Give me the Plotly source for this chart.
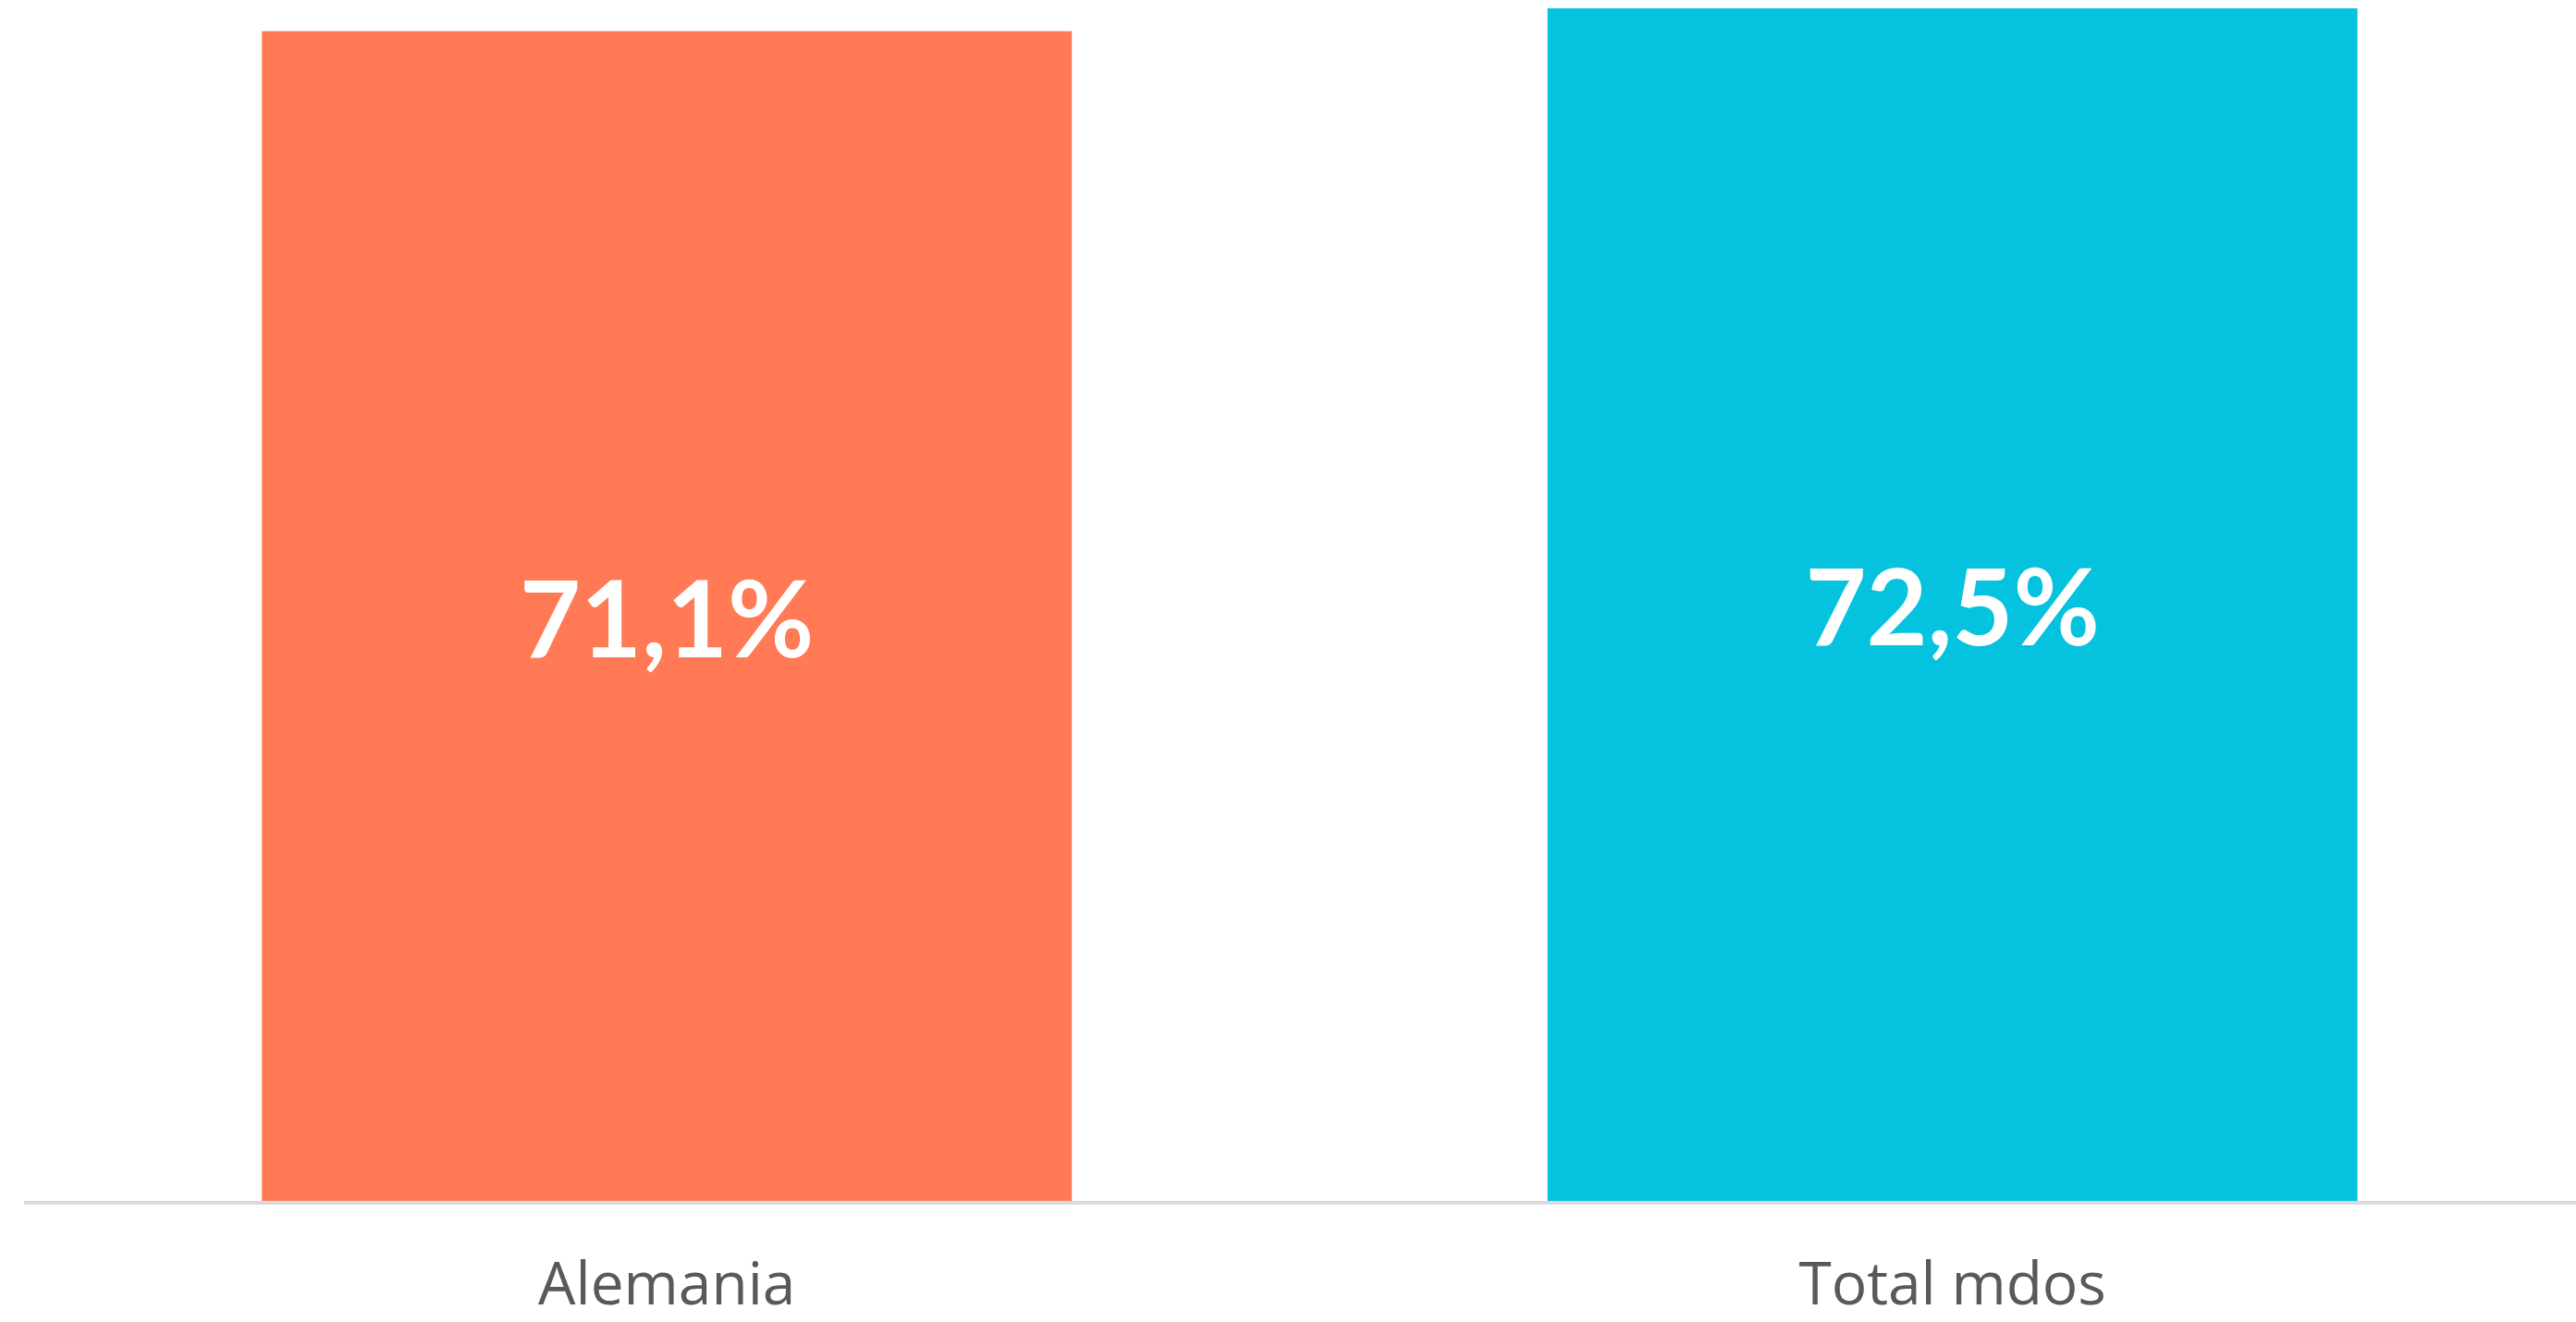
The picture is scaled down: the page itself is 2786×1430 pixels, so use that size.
import plotly.graph_objects as go

categories = ["Alemania", "Total mdos"]
values = [71.1, 72.5]
colors = ["#FF7A55", "#05C3DE"]

fig = go.Figure(
    go.Bar(
        x=categories,
        y=values,
        marker=dict(color=colors, line=dict(width=0)),
        width=0.63,
        texttemplate="%{y:.1f}%",
        textposition="inside",
        insidetextanchor="middle",
        textangle=0,
        textfont=dict(family="Lato", size=114, color="white", weight="bold"),
        cliponaxis=False,
        hoverinfo="skip",
    )
)

fig.update_layout(
    width=2786,
    height=1430,
    margin=dict(l=26, r=0, t=0, b=131, autoexpand=False),
    paper_bgcolor="white",
    plot_bgcolor="white",
    separators=",.",
    showlegend=False,
)
fig.update_xaxes(
    type="category",
    range=[-0.5, 1.485],
    automargin=False,
    showline=True,
    linecolor="#D9D9D9",
    linewidth=4,
    ticks="outside",
    ticklen=31,
    tickcolor="rgba(0,0,0,0)",
    tickfont=dict(family="Open Sans", size=64, color="#595959"),
    showgrid=False,
    zeroline=False,
)
fig.update_yaxes(
    range=[0, 73.0],
    visible=False,
    automargin=False,
    showgrid=False,
    zeroline=False,
)

fig.write_html(
    "out.html",
    config={"displayModeBar": False},
    post_script="document.body.style.margin='0';document.body.style.padding='0';document.body.style.overflow='hidden';",
)
